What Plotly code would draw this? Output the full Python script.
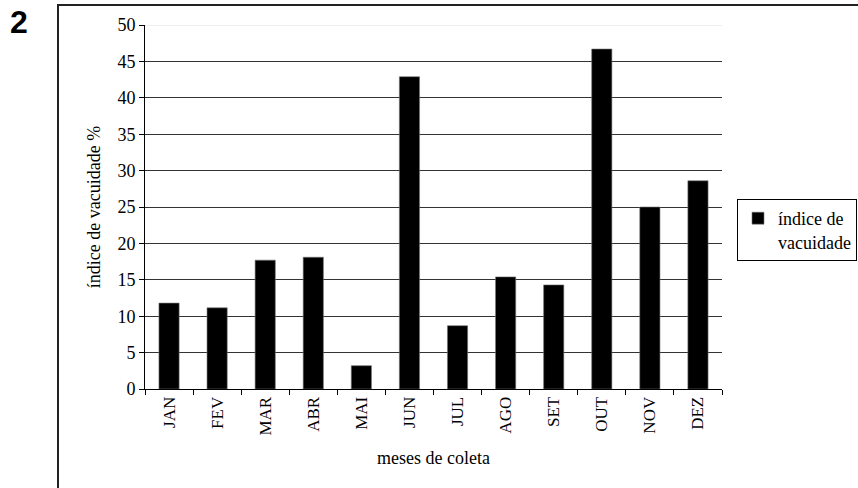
import plotly.graph_objects as go

# Monthly vacuity index
months = ["JAN", "FEV", "MAR", "ABR", "MAI", "JUN", "JUL", "AGO", "SET", "OUT", "NOV", "DEZ"]
vacuity = [11.8, 11.15, 17.7, 18.1, 3.2, 42.9, 8.7, 15.4, 14.3, 46.7, 25.0, 28.6]
y_ticks = [0, 5, 10, 15, 20, 25, 30, 35, 40, 45, 50]

SERIF = "Liberation Serif, Times New Roman, serif"

fig = go.Figure()
fig.add_trace(go.Bar(
    x=months,
    y=vacuity,
    name="índice de<br>vacuidade",
    marker=dict(color="black", line=dict(color="#777", width=0.6)),
    width=0.42,
    showlegend=True,
))

W, H = 858, 488
L, R, T, B = 145, 136, 25, 99
PW, PH = W - L - R, H - T - B

fig.update_layout(
    width=W, height=H,
    margin=dict(l=L, r=R, t=T, b=B, autoexpand=False),
    paper_bgcolor="white",
    plot_bgcolor="white",
    font=dict(family=SERIF, size=17, color="black"),
    showlegend=True,
    legend=dict(
        xref="container", yref="container",
        x=737 / W, y=1 - 199 / H, xanchor="left", yanchor="top",
        bordercolor="black", borderwidth=1,
        font=dict(family=SERIF, size=18, color="black"),
        valign="top",
        itemwidth=30,
        tracegroupgap=0,
    ),
    xaxis=dict(
        type="category",
        showline=True, linecolor="black", linewidth=1,
        ticks="outside", ticklen=5, tickcolor="black",
        tickson="boundaries",
        tickangle=-90,
        tickfont=dict(family=SERIF, size=17),
        showgrid=False,
        automargin=False,
        title=dict(text="meses de coleta", font=dict(family=SERIF, size=18), standoff=16),
    ),
    yaxis=dict(
        range=[0, 50],
        tickvals=y_ticks,
        showline=True, linecolor="black", linewidth=1,
        ticks="outside", ticklen=5, tickcolor="black",
        tickfont=dict(family=SERIF, size=18),
        showgrid=True, gridcolor="#333", gridwidth=1,
        zeroline=False,
        automargin=False,
        title=dict(text="índice de vacuidade %", font=dict(family=SERIF, size=18), standoff=12),
    ),
    shapes=[
        # outer frame around the chart panel
        dict(type="rect", xref="paper", yref="paper",
             x0=(58 - L) / PW, x1=(W + 20 - L) / PW,
             y0=-(B + 20) / PH,
             y1=(H - B - 5) / PH,
             line=dict(color="#222", width=2), fillcolor="rgba(0,0,0,0)", layer="below"),
        # faint top gridline
        dict(type="line", xref="paper", yref="y", x0=0, x1=1, y0=50, y1=50,
             line=dict(color="#ddd", width=1), layer="below"),
    ],
    annotations=[
        dict(text="<b>2</b>", xref="paper", yref="paper",
             x=(8 - L) / PW, y=(H - B - 22) / PH,
             xanchor="left", yanchor="middle", showarrow=False,
             font=dict(family="Liberation Sans, Arial, sans-serif", size=32, color="black")),
    ],
)

fig.write_html("out.html")
